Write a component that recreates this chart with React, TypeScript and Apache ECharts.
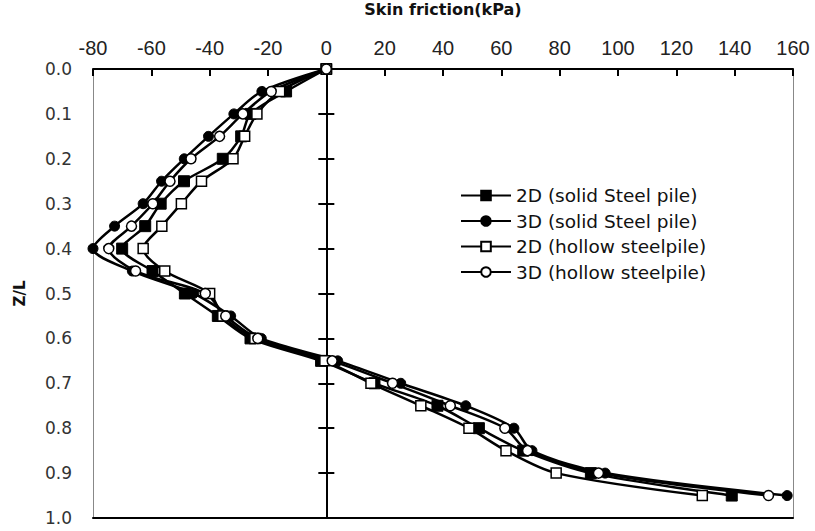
import React, { useEffect, useRef } from "react";
import * as echarts from "echarts";

// Z/L depth ratios (y axis)
const zL = [0, 0.05, 0.1, 0.15, 0.2, 0.25, 0.3, 0.35, 0.4, 0.45, 0.5, 0.55, 0.6, 0.65, 0.7, 0.75, 0.8, 0.85, 0.9, 0.95];

// Skin friction (kPa) per series
const solid2D = [0, -13.8, -26.0, -29.2, -35.5, -48.8, -56.8, -62.1, -70.0, -59.6, -48.5, -37.2, -26.0, -1.8, 16.5, 38.1, 52.3, 67.5, 90.7, 139.0];
const solid3D = [0, -22.1, -31.7, -40.4, -48.7, -56.5, -62.8, -72.6, -80.0, -66.5, -45.5, -32.8, -22.3, 3.9, 25.5, 47.8, 64.3, 70.5, 95.6, 158.0];
const hollow2D = [0, -16.0, -23.8, -28.0, -32.0, -42.8, -49.7, -56.4, -62.8, -55.4, -40.0, -35.5, -24.5, -0.5, 15.3, 32.4, 48.9, 61.6, 78.8, 128.9];
const hollow3D = [0, -18.9, -28.6, -36.6, -46.4, -53.6, -59.5, -66.8, -74.6, -65.4, -41.5, -34.5, -23.5, 2.0, 22.7, 42.5, 61.2, 69.0, 93.3, 151.6];

const seriesNames = ["2D (solid Steel pile)", "3D (solid Steel pile)", "2D (hollow steelpile)", "3D (hollow steelpile)"];

const xMin = -80;
const xMax = 160;
const xStep = 20;
const yMin = 0;
const yMax = 1;
const yStep = 0.1;

const FONT = "DejaVu Sans";

export default function App() {
  const ref = useRef<HTMLDivElement>(null);

  useEffect(() => {
    if (!ref.current) return;
    const chart = echarts.init(ref.current, null, { renderer: "svg" });

    const mk = (name: string, vals: number[], symbol: string, filled: boolean, size: number) => ({
      name,
      type: "line",
      xAxisIndex: 0,
      yAxisIndex: 0,
      data: zL.map((z, i) => [vals[i], z]),
      smooth: 0.3,
      symbol,
      symbolSize: size,
      showSymbol: true,
      lineStyle: { color: "#000", width: 2.5 },
      itemStyle: filled
        ? { color: "#000", borderColor: "#000", borderWidth: 1 }
        : { color: "#fff", borderColor: "#000", borderWidth: 1.5 },
      emphasis: { disabled: true },
    });

    const baseY = {
      type: "value",
      min: yMin,
      max: yMax,
      interval: yStep,
      inverse: true,
      splitLine: { show: false },
    };

    chart.setOption({
      animation: false,
      backgroundColor: "#fff",
      grid: { left: 93, right: 22, top: 69, bottom: 13, outerBoundsMode: "none" },
      legend: {
        data: seriesNames,
        orient: "vertical",
        left: 455,
        top: 181,
        itemWidth: 50,
        itemHeight: 12,
        itemGap: 6.5,
        textStyle: { fontFamily: FONT, fontSize: 18.5, color: "#111" },
      },
      xAxis: [
        {
          type: "value",
          position: "top",
          min: xMin,
          max: xMax,
          interval: xStep,
          name: "Skin friction(kPa)",
          nameLocation: "middle",
          nameGap: 52,
          nameTextStyle: { fontFamily: FONT, fontWeight: "bold", fontSize: 16, color: "#111" },
          axisLine: { show: true, onZero: false, lineStyle: { color: "#000", width: 2 } },
          axisTick: { show: true, inside: true, length: 7, lineStyle: { color: "#000", width: 2 } },
          axisLabel: { fontFamily: "Liberation Sans", fontSize: 20, color: "#222", margin: 11 },
          splitLine: { show: false },
        },
        {
          type: "value",
          position: "bottom",
          min: xMin,
          max: xMax,
          interval: xStep,
          axisLine: { show: true, onZero: false, lineStyle: { color: "#000", width: 2 } },
          axisTick: { show: false },
          axisLabel: { show: false },
          splitLine: { show: false },
        },
      ],
      yAxis: [
        {
          ...baseY,
          position: "left",
          name: "Z/L",
          nameLocation: "middle",
          nameGap: 66,
          nameTextStyle: { fontFamily: FONT, fontWeight: "bold", fontSize: 15, color: "#111" },
          axisLine: { show: true, onZero: false, lineStyle: { color: "#888", width: 1 } },
          axisTick: { show: false },
          axisLabel: {
            fontFamily: FONT,
            fontSize: 17,
            color: "#333",
            margin: 21,
            formatter: (v: number) => v.toFixed(1),
          },
        },
        {
          ...baseY,
          position: "left",
          axisLine: { show: true, onZero: true, onZeroAxisIndex: 0, lineStyle: { color: "#000", width: 2 } },
          axisTick: { show: true, length: 8, lineStyle: { color: "#000", width: 2 } },
          axisLabel: { show: false },
        },
        {
          ...baseY,
          position: "right",
          axisLine: { show: true, onZero: true, onZeroAxisIndex: 0, lineStyle: { color: "#000", width: 2 } },
          axisTick: { show: true, length: 8, lineStyle: { color: "#000", width: 2 } },
          axisLabel: { show: false },
        },
        {
          ...baseY,
          position: "right",
          axisLine: { show: true, onZero: false, lineStyle: { color: "#888", width: 1 } },
          axisTick: { show: false },
          axisLabel: { show: false },
        },
      ],
      series: [
        mk(seriesNames[0], solid2D, "rect", true, 11),
        mk(seriesNames[1], solid3D, "circle", true, 10),
        mk(seriesNames[2], hollow2D, "rect", false, 10),
        mk(seriesNames[3], hollow3D, "circle", false, 10),
      ],
    });

    return () => chart.dispose();
  }, []);

  return <div ref={ref} style={{ width: 815, height: 531, position: "absolute", left: 0, top: 0 }} />;
}
